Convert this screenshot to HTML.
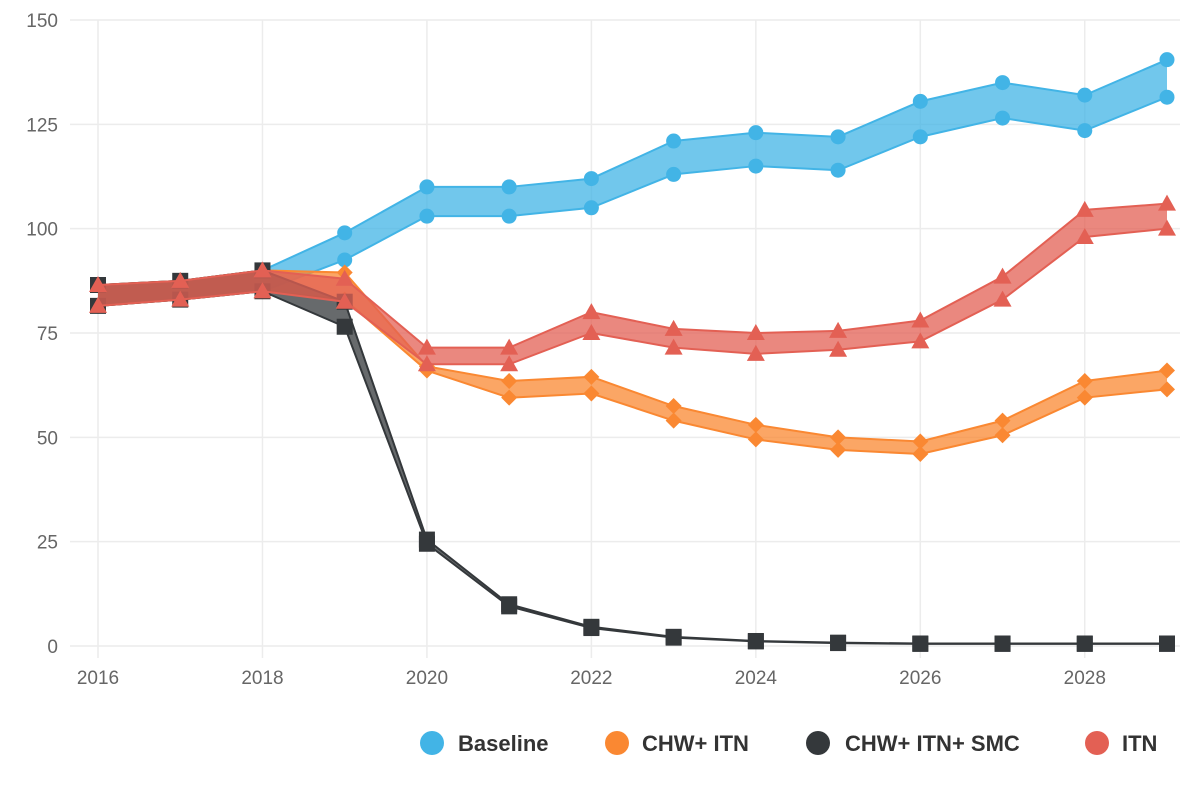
<!DOCTYPE html>
<html><head><meta charset="utf-8">
<style>
html,body{margin:0;padding:0;background:#fff;}
svg{display:block;font-family:"Liberation Sans",sans-serif;}
</style></head>
<body>
<svg id="chart" width="1200" height="800" viewBox="0 0 1200 800" xmlns="http://www.w3.org/2000/svg">
<g id="grid"></g>
<g id="axes"></g>
<g id="series"></g>
<g id="legend" font-weight="bold" font-size="22" fill="#333">
  <g><circle cx="432" cy="743" r="12" fill="#42b4e6"/><text x="458" y="751">Baseline</text></g>
  <g><circle cx="617" cy="743" r="12" fill="#fa8832"/><text x="642" y="751">CHW+ ITN</text></g>
  <g><circle cx="818" cy="743" r="12" fill="#34383b"/><text x="845" y="751">CHW+ ITN+ SMC</text></g>
  <g><circle cx="1097" cy="743" r="12" fill="#e36054"/><text x="1122" y="751">ITN</text></g>
</g>
</svg>
<script>
const years=[2016,2017,2018,2019,2020,2021,2022,2023,2024,2025,2026,2027,2028,2029];
const baseHi=[86.5,87.5,90,99,110,110,112,121,123,122,130.5,135,132,140.5];
const baseLo=[81.5,83,85,92.5,103,103,105,113,115,114,122,126.5,123.5,131.5];
const chwHi=[86.5,87.5,90,89.5,67,63.5,64.5,57.5,53,50,49,54,63.5,66];
const chwLo=[81.5,83,85,83,66,59.5,60.5,54,49.5,47,46,50.5,59.5,61.5];
const smcHi=[86.5,87.5,90,82.5,25.5,10,4.6,2.2,1.2,0.8,0.6,0.6,0.6,0.6];
const smcLo=[81.5,83,85,76.5,24.5,9.5,4.3,2,1.1,0.7,0.5,0.5,0.5,0.5];
const itnHi=[86.5,87.5,90,88,71.5,71.5,80,76,75,75.5,78,88.5,104.5,106];
const itnLo=[81.5,83,85,82.5,67.5,67.5,75,71.5,70,71,73,83,98,100];
const yTicks=[0,25,50,75,100,125,150];
const xTicks=[2016,2018,2020,2022,2024,2026,2028];

const NS="http://www.w3.org/2000/svg";
const X=v=>98+(v-2016)*(1167-98)/13;
const Y=v=>646-v*(646-20)/150;
function mk(tag,attrs,parent){const e=document.createElementNS(NS,tag);for(const k in attrs)e.setAttribute(k,attrs[k]);parent.appendChild(e);return e;}
const grid=document.getElementById('grid'),axes=document.getElementById('axes'),ser=document.getElementById('series');
yTicks.forEach(t=>{
  const l=mk('line',{x1:70,x2:1180,y1:Y(t),y2:Y(t),stroke:'#ececec','stroke-width':1.5},grid);
  
  
  const tx=mk('text',{x:58,y:Y(t)+7,'text-anchor':'end','font-size':19,fill:'#666'},axes);
  tx.textContent=t;
  
  
});
xTicks.forEach(t=>{
  const l=mk('line',{x1:X(t),x2:X(t),y1:20,y2:658,stroke:'#ececec','stroke-width':1.5},grid);
  
  
  const tx=mk('text',{x:X(t),y:684,'text-anchor':'middle','font-size':19,fill:'#666'},axes);
  tx.textContent=t;
  
  
});
function marker(shape,x,y,color,g){
  let e;
  if(shape==='circle')e=mk('circle',{cx:x,cy:y,r:7.5,fill:color},g);
  else if(shape==='square')e=mk('rect',{x:x-8,y:y-8,width:16,height:16,fill:color},g);
  else if(shape==='diamond')e=mk('path',{d:`M${x} ${y-8}L${x+8} ${y}L${x} ${y+8}L${x-8} ${y}Z`,fill:color},g);
  else e=mk('path',{d:`M${x} ${y-9}L${x+9} ${y+7}L${x-9} ${y+7}Z`,fill:color},g);
  
  
}
function band(name,hi,lo,fill,stroke,shape){
  const g=mk('g',{},ser);
  
  
  const up=years.map((yr,i)=>`${X(yr)},${Y(hi[i])}`);
  const dn=years.map((yr,i)=>`${X(yr)},${Y(lo[i])}`).reverse();
  const a=mk('polygon',{points:up.concat(dn).join(' '),fill:fill,'fill-opacity':0.75},g);
  
  
  [hi,lo].forEach(arr=>{
    const p=mk('polyline',{points:years.map((yr,i)=>`${X(yr)},${Y(arr[i])}`).join(' '),fill:'none',stroke:stroke,'stroke-width':2},g);
    
    
  });
  years.forEach((yr,i)=>{marker(shape,X(yr),Y(hi[i]),stroke,g);marker(shape,X(yr),Y(lo[i]),stroke,g);});
}
band('baseline',baseHi,baseLo,'#42b4e6','#42b4e6','circle');
band('chw-itn',chwHi,chwLo,'#fa8832','#fa8832','diamond');
band('chw-itn-smc',smcHi,smcLo,'#34383b','#34383b','square');
band('itn',itnHi,itnLo,'#e36054','#e36054','triangle');
</script>
</body></html>
